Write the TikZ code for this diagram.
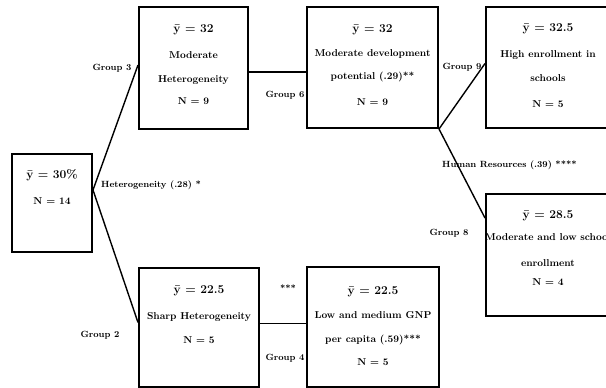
\documentclass[tikz,border=0pt]{standalone}
\usepackage{amsmath}
\usepackage{xcolor}
\usepackage{tikz}
\usetikzlibrary{positioning}

\tikzset{
    scatola/.style={draw, line width=2pt, inner sep=0pt},
    testo/.style={align=center, inner sep=0pt, font=\bfseries},
    etichetta/.style={font=\bfseries\small, inner sep=1pt},
    ramo/.style={line width=1.4pt}
}

\begin{document}
\begin{tikzpicture}[x=1pt,y=-1pt]
        \useasboundingbox (0,0) rectangle (606,388);
        \clip (0,0) rectangle (606,388);

        % Scatole
        \node[scatola, minimum width=80pt, minimum height=98pt] (root) at (52,203) {};
        \node[scatola, minimum width=109pt, minimum height=122pt] (G3) at (193.5,68) {};
        \node[scatola, minimum width=131pt, minimum height=121pt] (G6) at (372.5,67.5) {};
        \node[scatola, minimum width=124pt, minimum height=121pt] (G9) at (548,67.5) {};
        \node[scatola, minimum width=124pt, minimum height=122pt] (G8) at (548,255) {};
        \node[scatola, minimum width=120pt, minimum height=119pt] (G2) at (199,327.5) {};
        \node[scatola, minimum width=132pt, minimum height=120pt] (G4) at (373,327) {};

        % Testi
        \node[testo, below=16pt of root.north] (roottxt) {{\large\={y} = 30\%}\\[14pt] N = 14};
        \node[testo, below=18pt of G3.north] (G3txt) {{\large\={y} = 32}\\[14pt] Moderate\\[12pt] Heterogeneity\\[10pt] N = 9};
        \node[testo, below=18pt of G6.north] (G6txt) {{\large\={y} = 32}\\[12pt] Moderate development\\[11pt] potential (.29)**\\[14pt] N = 9};
        \node[testo, below=17pt of G9.north] (G9txt) {{\large\={y} = 32.5}\\[14pt] High enrollment in\\[12pt] schools\\[14pt] N = 5};
        \node[testo, below=17pt of G8.north] (G8txt) {{\large\={y} = 28.5}\\[10pt] Moderate and low school\\[14pt] enrollment\\[7pt] N = 4};
        \node[testo, below=18pt of G2.north] (G2txt) {{\large\={y} = 22.5}\\[14pt] Sharp Heterogeneity\\[12pt] N = 5};
        \node[testo, below=20pt of G4.north] (G4txt) {{\large\={y} = 22.5}\\[12pt] Low and medium GNP\\[12pt] per capita (.59)***\\[11pt] N = 5};

        % Rami
        \draw[ramo] ([yshift=13pt]root.east) -- ([yshift=3pt]G3.west);
        \draw[ramo] ([yshift=13pt]root.east) -- ([yshift=5pt]G2.west);
        \draw[ramo] ([yshift=-4pt]G3.east) -- ([yshift=-4pt]G3.east -| G6.west);
        \draw[ramo] ([yshift=4pt]G2.east) -- ([yshift=4pt]G2.east -| G4.west);
        \draw[ramo] (G6.south east) -- ([yshift=4pt]G9.west);
        \draw[ramo] (G6.south east) -- ([yshift=37pt]G8.west);

        % Etichette
        \node[etichetta] (g3) at (112,68) {Group 3};
        \node[etichetta, anchor=west] (het) at (100,185) {Heterogeneity (.28) *};
        \node[etichetta] (g2) at (100,335) {Group 2};
        \node[etichetta] (g6) at (285,95) {Group 6};
        \node[etichetta] (g4) at (285,358) {Group 4};
        \node[etichetta] (stelle) at (288,288) {***};
        \node[etichetta] (g9) at (462,67) {Group 9};
        \node[etichetta, anchor=west] (hr) at (441,165) {Human Resources (.39) ****};
        \node[etichetta] (g8) at (449,233) {Group 8};
\end{tikzpicture}
\end{document}
